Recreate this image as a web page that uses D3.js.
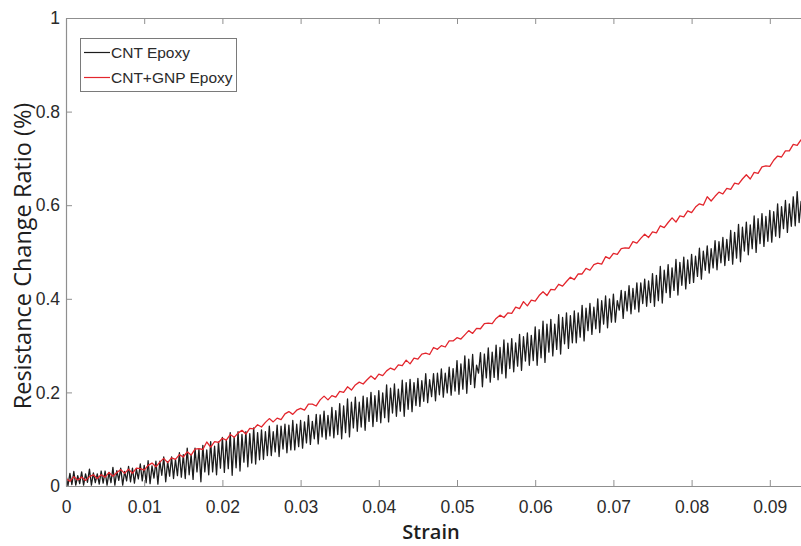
<!DOCTYPE html>
<html><head><meta charset="utf-8">
<script src="https://cdn.jsdelivr.net/npm/d3@7"></script>
<style>html,body{margin:0;padding:0;background:#fff;} svg{display:block}</style>
</head><body>
<script>
// ---------------- data ----------------
const seriesNames = ["CNT Epoxy", "CNT+GNP Epoxy"];
const xTitle = "Strain";
const yTitle = "Resistance Change Ratio (%)";
const xTicks = [0, 0.01, 0.02, 0.03, 0.04, 0.05, 0.06, 0.07, 0.08, 0.09];
const xTickLabels = ["0", "0.01", "0.02", "0.03", "0.04", "0.05", "0.06", "0.07", "0.08", "0.09"];
const yTicks = [0, 0.2, 0.4, 0.6, 0.8, 1];
const yTickLabels = ["0", "0.2", "0.4", "0.6", "0.8", "1"];

// sampling interval of each recorded series (strain units)
const strainStepCnt = 0.00025;
const strainStepCntGnp = 0.0005;

// CNT Epoxy (black)
const cntEpoxy = [
 .023,.001,.027,.003,.031,.002,.022,.005,.030,.002,.026,.008,.036,.002,.028,.007,.026,.004,.032,.006,
 .032,.002,.029,.007,.040,.002,.033,.012,.038,.002,.031,.011,.042,.009,.038,.006,.036,.015,.047,.011,
 .044,.007,.054,.005,.043,.017,.053,.004,.053,.023,.062,.009,.052,.021,.062,.016,.057,.022,.071,.019,
 .067,.016,.081,.024,.067,.014,.081,.030,.079,.009,.087,.030,.077,.024,.095,.030,.085,.024,.094,.038,
 .104,.029,.098,.037,.114,.023,.104,.039,.116,.032,.110,.051,.116,.041,.112,.049,.124,.047,.114,.056,
 .120,.057,.116,.065,.128,.065,.116,.073,.130,.063,.128,.079,.132,.071,.130,.077,.140,.077,.132,.084,
 .140,.081,.137,.092,.151,.089,.138,.101,.153,.090,.152,.105,.160,.100,.151,.107,.168,.103,.161,.110,
 .176,.101,.171,.114,.186,.105,.179,.124,.190,.117,.179,.126,.192,.119,.189,.138,.200,.127,.193,.138,
 .204,.135,.199,.146,.216,.137,.209,.156,.218,.149,.207,.160,.226,.149,.221,.164,.228,.159,.221,.172,
 .230,.170,.225,.181,.240,.178,.227,.191,.240,.182,.241,.195,.250,.190,.241,.199,.254,.194,.251,.203,
 .268,.196,.261,.207,.278,.198,.271,.217,.281,.210,.258,.241,.285,.212,.282,.231,.295,.222,.286,.232,
 .301,.227,.296,.240,.312,.231,.305,.251,.315,.244,.306,.256,.324,.247,.319,.267,.327,.258,.322,.268,
 .340,.258,.334,.274,.352,.264,.346,.286,.356,.278,.346,.292,.366,.282,.360,.304,.370,.294,.364,.306,
 .374,.306,.370,.318,.386,.310,.380,.332,.390,.324,.382,.336,.400,.328,.396,.346,.406,.338,.400,.350,
 .410,.350,.396,.376,.418,.358,.416,.374,.428,.368,.422,.378,.434,.372,.434,.390,.442,.384,.438,.392,
 .454,.384,.450,.396,.469,.391,.461,.413,.473,.403,.466,.418,.484,.408,.478,.429,.489,.421,.483,.433,
 .495,.435,.491,.448,.508,.442,.502,.461,.513,.455,.507,.466,.524,.462,.522,.477,.531,.471,.527,.482,
 .546,.474,.542,.487,.559,.479,.553,.502,.564,.494,.558,.507,.577,.499,.571,.518,.582,.512,.576,.523,
 .589,.521,.586,.534,.603,.531,.597,.550,.610,.542,.603,.555,.618,.556,.629,.563,.608,.586,.610
];

// CNT+GNP Epoxy (red)
const cntGnpEpoxy = [
 .016,.010,.020,.013,.019,.012,.020,.024,.016,.024,
 .019,.029,.021,.029,.035,.027,.036,.027,.038,.037,
 .034,.044,.049,.041,.051,.059,.050,.060,.057,.067,
 .062,.073,.066,.079,.080,.078,.094,.083,.095,.093,
 .102,.098,.110,.104,.113,.119,.111,.123,.122,.131,
 .126,.136,.144,.137,.145,.142,.154,.159,.153,.162,
 .166,.162,.175,.175,.171,.184,.192,.184,.193,.190,
 .202,.200,.212,.205,.216,.222,.218,.227,.235,.228,
 .239,.236,.246,.252,.248,.259,.257,.269,.261,.273,
 .271,.282,.284,.281,.296,.292,.300,.297,.310,.310,
 .317,.314,.323,.332,.326,.337,.336,.347,.348,.347,
 .358,.365,.360,.370,.369,.382,.379,.394,.385,.397,
 .395,.407,.415,.407,.420,.419,.431,.427,.437,.446,
 .441,.453,.453,.465,.461,.473,.476,.474,.490,.486,
 .497,.495,.507,.509,.508,.522,.519,.529,.538,.531,
 .543,.541,.556,.552,.563,.573,.564,.577,.575,.588,
 .584,.596,.603,.600,.618,.609,.619,.628,.624,.636,
 .634,.647,.645,.656,.665,.656,.670,.668,.682,.684,
 .683,.696,.705,.703,.716,.716,.730,.728,.740
];

// ---------------- drawing ----------------
const W = 801, H = 546;
const mLeft = 66, mTop = 18, mBottom = 486, mRight = 848;
const colors = ["#1c1c1c", "#e3262d"];
const axisColor = "#8f8f8f";
const textColor = "#2b2b2b";

const svg = d3.select("body").append("svg").attr("width", W).attr("height", H);

const x = d3.scaleLinear().domain([0, 0.1]).range([mLeft, mRight]);
const y = d3.scaleLinear().domain([0, 1]).range([mBottom, mTop]);

svg.append("defs").append("clipPath").attr("id", "plotclip")
  .append("rect").attr("x", mLeft).attr("y", mTop).attr("width", mRight - mLeft).attr("height", mBottom - mTop);

const line = d3.line().x(d => x(d[0])).y(d => y(d[1]));

const cntPts = cntEpoxy.map((v, i) => [i * strainStepCnt, v]);
const gnpPts = cntGnpEpoxy.map((v, i) => [i * strainStepCntGnp, v]);

const plot = svg.append("g").attr("clip-path", "url(#plotclip)");
plot.append("path").datum(cntPts).attr("d", line)
  .attr("fill", "none").attr("stroke", colors[0]).attr("stroke-width", 1.3).attr("stroke-linejoin", "round");
plot.append("path").datum(gnpPts).attr("d", line)
  .attr("fill", "none").attr("stroke", colors[1]).attr("stroke-width", 1.3).attr("stroke-linejoin", "round");

function styleAxis(g) {
  g.select(".domain").attr("stroke", axisColor).attr("stroke-width", 1.2);
  g.selectAll(".tick line").attr("stroke", axisColor).attr("stroke-width", 1);
  g.selectAll(".tick text").attr("fill", textColor)
    .style("font-family", "'Liberation Sans', Arial, sans-serif").style("font-size", "17.5px");
}

// bottom axis
svg.append("g").attr("transform", `translate(0,${mBottom})`)
  .call(d3.axisBottom(x).tickValues(xTicks).tickFormat((d, i) => xTickLabels[i])
    .tickSizeInner(-6).tickSizeOuter(0).tickPadding(15))
  .call(styleAxis);
// top axis (box)
svg.append("g").attr("transform", `translate(0,${mTop})`)
  .call(d3.axisTop(x).tickValues(xTicks).tickFormat("").tickSizeInner(-6).tickSizeOuter(0))
  .call(styleAxis);
// left axis
svg.append("g").attr("transform", `translate(${mLeft},0)`)
  .call(d3.axisLeft(y).tickValues(yTicks).tickFormat((d, i) => yTickLabels[i])
    .tickSizeInner(-6).tickSizeOuter(0).tickPadding(6))
  .call(styleAxis);

// axis titles
svg.append("text").attr("x", 431).attr("y", 539).attr("text-anchor", "middle")
  .attr("fill", "#1e1e1e").style("font-family", "'Open Sans', sans-serif")
  .style("font-size", "20px").style("font-weight", 600).text(xTitle);
svg.append("text").attr("transform", "translate(31,256) rotate(-90)").attr("text-anchor", "middle")
  .attr("fill", "#1e1e1e").style("font-family", "'Open Sans', sans-serif")
  .style("font-size", "23.5px").text(yTitle);

// legend
const lg = svg.append("g");
lg.append("rect").attr("x", 80.5).attr("y", 38.5).attr("width", 156).attr("height", 53)
  .attr("fill", "#fff").attr("stroke", "#7a7a7a").attr("stroke-width", 1);
seriesNames.forEach((name, i) => {
  const yy = 52.5 + i * 25;
  lg.append("line").attr("x1", 84).attr("x2", 110).attr("y1", yy).attr("y2", yy)
    .attr("stroke", colors[i]).attr("stroke-width", 1.2);
  lg.append("text").attr("x", 111).attr("y", yy + 5.5).attr("fill", textColor)
    .style("font-family", "'Liberation Sans', Arial, sans-serif").style("font-size", "15.5px").text(name);
});
</script>
</body></html>
